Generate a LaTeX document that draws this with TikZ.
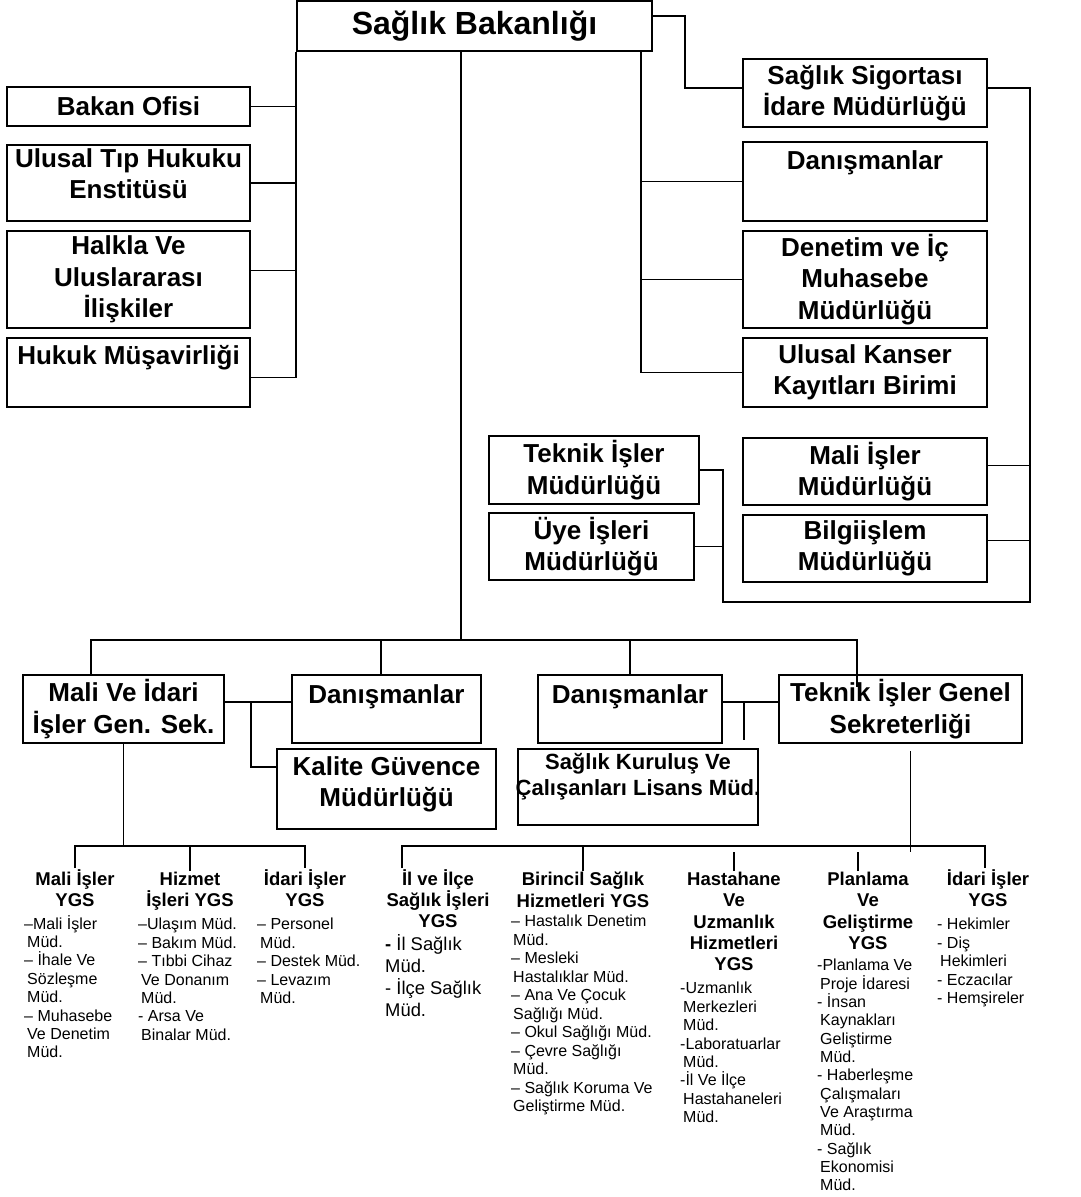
\documentclass[tikz,border=0pt]{standalone}
\usepackage{fontspec}
\setmainfont{Liberation Sans}
\tikzset{
  box/.style={draw,line width=2pt,inner sep=2pt,align=center,
    font=\fontsize{26}{31.5}\selectfont\bfseries},
  toplbl/.style={anchor=north,align=center,inner sep=0pt,
    font=\fontsize{26}{31.5}\selectfont\bfseries},
  ygs/.style={anchor=north,align=center,inner sep=1pt,
    font=\fontsize{18.5}{21.3}\selectfont\bfseries},
  unit/.style={anchor=north west,align=left,inner sep=1pt,
    font=\fontsize{16}{18.4}\selectfont},
  conn/.style={line width=1.8pt}
}
\begin{document}
\begin{tikzpicture}[x=1pt,y=-1pt]
      \useasboundingbox (0,0) rectangle (1081,1197);

      \draw (474.5,26) node [box,minimum width=355pt,minimum height=50pt,font=\fontsize{32}{38}\selectfont\bfseries] (bakanlik) {Sağlık Bakanlığı};

      \draw (128.5,106.5) node [box,minimum width=243pt,minimum height=39pt] (ofis) {Bakan Ofisi};
      \draw (128.5,183) node [box,minimum width=243pt,minimum height=76pt,label={[toplbl,yshift=-4pt]north:Ulusal Tıp Hukuku\\Enstitüsü}] (tip) {};
      \draw (128.5,279.5) node [box,minimum width=243pt,minimum height=97pt] (halkla) {Halkla Ve\\Uluslararası\\İlişkiler};
      \draw (128.5,372.5) node [box,minimum width=243pt,minimum height=69pt,label={[toplbl,yshift=-8pt]north:Hukuk Müşavirliği}] (hukuk) {};

      \draw (865,93) node [box,minimum width=244pt,minimum height=68pt] (sigorta) {Sağlık Sigortası\\İdare Müdürlüğü};
      \draw (865,181.5) node [box,minimum width=244pt,minimum height=79pt,label={[toplbl,yshift=-9pt]north:Danışmanlar}] (danis) {};
      \draw (865,279.5) node [box,minimum width=244pt,minimum height=97pt] (denetim) {Denetim ve İç\\Muhasebe\\Müdürlüğü};
      \draw (865,372.5) node [box,minimum width=244pt,minimum height=69pt] (kanser) {Ulusal Kanser\\Kayıtları Birimi};

      \draw (594,470) node [box,minimum width=210pt,minimum height=68pt] (teknikm) {Teknik İşler\\Müdürlüğü};
      \draw (591.5,546.5) node [box,minimum width=205pt,minimum height=67pt] (uye) {Üye İşleri\\Müdürlüğü};
      \draw (865,471.5) node [box,minimum width=244pt,minimum height=67pt] (malim) {Mali İşler\\Müdürlüğü};
      \draw (865,548.5) node [box,minimum width=244pt,minimum height=67pt] (bilgi) {Bilgiişlem\\Müdürlüğü};

      \draw (123.5,709) node [box,minimum width=201pt,minimum height=68pt] (mvi) {Mali Ve İdari\\İşler Gen. Sek.};
      \draw (386.5,709) node [box,minimum width=189pt,minimum height=68pt,label={[toplbl,yshift=-10pt]north:Danışmanlar}] (danisl) {};
      \draw (386.5,789) node [box,minimum width=219pt,minimum height=80pt,label={[toplbl,yshift=-8pt]north:Kalite Güvence\\Müdürlüğü}] (kalite) {};
      \draw (630,709) node [box,minimum width=184pt,minimum height=68pt,label={[toplbl,yshift=-10pt]north:Danışmanlar}] (danism) {};
      \draw (638,787) node [box,minimum width=240pt,minimum height=76pt,label={[toplbl,yshift=-5pt,font=\fontsize{22}{26}\selectfont\bfseries]north:Sağlık Kuruluş Ve\\Çalışanları Lisans Müd.}] (lisans) {};
      \draw (900.5,709) node [box,minimum width=243pt,minimum height=68pt] (tigs) {Teknik İşler Genel\\Sekreterliği};

      \draw (75,868) node [ygs] (ygs1) {Mali İşler\\YGS};
      \draw (190,871) node [ygs] (ygs2) {Hizmet\\İşleri YGS};
      \draw (305,868) node [ygs] (ygs3) {İdari İşler\\YGS};
      \draw (438,868) node [ygs] (ygs4) {İl ve İlçe\\Sağlık İşleri\\YGS};
      \draw (583,871) node [ygs] (ygs5) {Birincil Sağlık\\Hizmetleri YGS};
      \draw (734,871) node [ygs] (ygs6) {Hastahane\\Ve\\Uzmanlık\\Hizmetleri\\YGS};
      \draw (868,871) node [ygs] (ygs7) {Planlama\\Ve\\Geliştirme\\YGS};
      \draw (988,868) node [ygs] (ygs8) {İdari İşler\\YGS};

      \draw (23,914) node [unit] (mud1) {–Mali İşler\\\hspace*{3pt}Müd.\\– İhale Ve\\\hspace*{3pt}Sözleşme\\\hspace*{3pt}Müd.\\– Muhasebe\\\hspace*{3pt}Ve Denetim\\\hspace*{3pt}Müd.};
      \draw (137,917) node [unit] (mud2) {–Ulaşım Müd.\\– Bakım Müd.\\– Tıbbi Cihaz\\\hspace*{3pt}Ve Donanım\\\hspace*{3pt}Müd.\\- Arsa Ve\\\hspace*{3pt}Binalar Müd.};
      \draw (256,917) node [unit] (mud3) {– Personel\\\hspace*{3pt}Müd.\\– Destek Müd.\\– Levazım\\\hspace*{3pt}Müd.};
      \draw (384,933) node [unit,font=\fontsize{18.4}{22}\selectfont] (mud4) {\textbf{-} İl Sağlık\\Müd.\\- İlçe Sağlık\\Müd.};
      \draw (510,914) node [unit,font=\fontsize{16}{18.5}\selectfont] (mud5) {– Hastalık Denetim\\\hspace*{2pt}Müd.\\– Mesleki\\\hspace*{2pt}Hastalıklar Müd.\\– Ana Ve Çocuk\\\hspace*{2pt}Sağlığı Müd.\\– Okul Sağlığı Müd.\\– Çevre Sağlığı\\\hspace*{2pt}Müd.\\– Sağlık Koruma Ve\\\hspace*{2pt}Geliştirme Müd.};
      \draw (679,981) node [unit] (mud6) {-Uzmanlık\\\hspace*{3pt}Merkezleri\\\hspace*{3pt}Müd.\\-Laboratuarlar\\\hspace*{3pt}Müd.\\-İl Ve İlçe\\\hspace*{3pt}Hastahaneleri\\\hspace*{3pt}Müd.};
      \draw (816,958) node [unit,font=\fontsize{16}{18.33}\selectfont] (mud7) {-Planlama Ve\\\hspace*{3pt}Proje İdaresi\\- İnsan\\\hspace*{3pt}Kaynakları\\\hspace*{3pt}Geliştirme\\\hspace*{3pt}Müd.\\- Haberleşme\\\hspace*{3pt}Çalışmaları\\\hspace*{3pt}Ve Araştırma\\\hspace*{3pt}Müd.\\- Sağlık\\\hspace*{3pt}Ekonomisi\\\hspace*{3pt}Müd.};
      \draw (936,917) node [unit] (mud8) {- Hekimler\\- Diş\\\hspace*{3pt}Hekimleri\\- Eczacılar\\- Hemşireler};

      \coordinate (lt) at (bakanlik.south west);
      \coordinate (hk) at ([yshift=-5pt]hukuk.east);
      \coordinate (hl) at ([yshift=9pt]halkla.east);
      \draw[conn] (lt) -- (lt |- hk) -- (hk);
      \draw[conn] (ofis.east) -- (lt |- ofis.east);
      \draw[conn] (tip.east) -- (lt |- tip.east);
      \draw[conn] (hl) -- (lt |- hl);

      \coordinate (rt) at ([xshift=-12pt]bakanlik.south east);
      \draw[conn] (rt) |- (kanser.west);
      \draw[conn] (rt |- danis.west) -- (danis.west);
      \draw[conn] (rt |- denetim.west) -- (denetim.west);
      \draw[conn] ([yshift=10pt]bakanlik.east) -- ++(32,0) |- ([yshift=5pt]sigorta.west);

      \coordinate (sg) at ([yshift=5pt]sigorta.east);
      \coordinate (rb) at (1030,602);
      \coordinate (lb) at (723,602);
      \coordinate (mi) at ([yshift=6pt]malim.east);
      \coordinate (bi) at ([yshift=8pt]bilgi.east);
      \draw[conn] (sg) -| (rb) -- (lb) |- (teknikm.east);
      \draw[conn] (uye.east) -- (uye.east -| lb);
      \draw[conn] (mi) -- (mi -| rb);
      \draw[conn] (bi) -- (bi -| rb);

      \coordinate (ct) at ([xshift=-13.5pt]bakanlik.south);
      \coordinate (hb) at (461,640);
      \coordinate (m1) at ([xshift=-32.5pt]mvi.north);
      \coordinate (m2) at ([xshift=-5.5pt]danisl.north);
      \coordinate (m4) at ([xshift=-43.5pt,yshift=-13pt]tigs.north);
      \draw[conn] (ct) -- (hb);
      \draw[conn] (m1) |- (hb) -| (m4);
      \draw[conn] (m2) -- (m2 |- hb);
      \draw[conn] (danism.north) -- (danism.north |- hb);

      \coordinate (mv) at ([yshift=7pt]mvi.east);
      \coordinate (kv) at ([yshift=22pt]kalite.west);
      \draw[conn] (mv) -- (mv -| danisl.west);
      \draw[conn] (mv) ++(26,0) |- (kv);
      \coordinate (dv) at ([yshift=7pt]danism.east);
      \draw[conn] (dv) -- (dv -| tigs.west);
      \draw[conn] (dv) ++(21,0) -- ++(0,38);

      \draw[conn] (mvi.south) -- (mvi.south |- 0,846);
      \draw[conn] (ygs1.north) |- (ygs3.north |- 0,846) -- (ygs3.north);
      \draw[conn] (ygs2.north) -- (ygs2.north |- 0,846);

      \coordinate (d4) at ([xshift=-36pt]ygs4.north);
      \coordinate (d7) at ([xshift=-10pt]ygs7.north);
      \coordinate (d8) at ([xshift=-3pt]ygs8.north);
      \coordinate (tb) at ([xshift=10pt,yshift=-7pt]tigs.south);
      \draw[conn] (d4) |- (d8 |- 0,846) -- (d8);
      \draw[conn] (ygs5.north) -- (ygs5.north |- 0,846);
      \draw[conn] (ygs6.north) -- (ygs6.north |- 0,852);
      \draw[conn] (d7) -- (d7 |- 0,852);
      \draw[conn] (tb) -- (tb |- 0,852);
\end{tikzpicture}
\end{document}
